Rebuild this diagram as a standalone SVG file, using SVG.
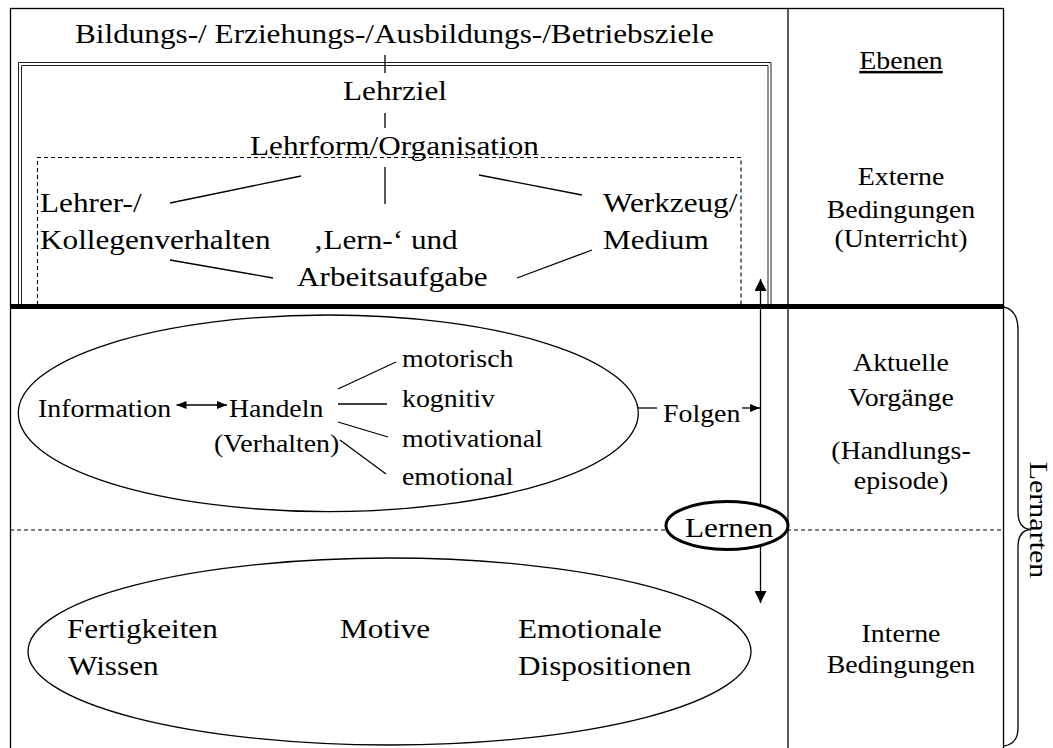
<svg xmlns="http://www.w3.org/2000/svg" width="1053" height="748" viewBox="0 0 1053 748" font-family="'Liberation Serif', 'Times New Roman', 'DejaVu Serif', serif">
<style>
text{font-family:'Liberation Serif','Times New Roman','DejaVu Serif',serif;fill:#000}
.l{font-size:28px}
.s{font-size:25px}
.c{text-anchor:middle}
.ln{stroke:#000;stroke-width:1.3;fill:none}
.thin{stroke:#222;stroke-width:1;fill:none}
.dash{stroke:#000;stroke-width:1.1;stroke-dasharray:4 3;fill:none}
.ell{stroke:#000;stroke-width:1.3;fill:none}
</style>
<defs>
<marker id="big" viewBox="0 0 12 12" refX="12" refY="6" markerWidth="12" markerHeight="12" markerUnits="userSpaceOnUse" orient="auto-start-reverse"><path d="M0,0 L12,6 L0,12 z" fill="#000"/></marker>
<marker id="sm" viewBox="0 0 10 8" refX="10" refY="4" markerWidth="10" markerHeight="8" markerUnits="userSpaceOnUse" orient="auto-start-reverse"><path d="M0,0 L10,4 L0,8 z" fill="#000"/></marker>
</defs>
<rect width="1053" height="748" fill="#fff"/>

<g id="frame">
<rect class="ln" x="10.5" y="8.5" width="993" height="760"/>
<line class="ln" x1="788" y1="8" x2="788" y2="748"/>
<path class="thin" d="M18.5,305 V62.5 H771 V305"/>
<path class="thin" d="M21.5,305 V65.5 H768 V305"/>
<path class="dash" d="M37.5,305 V157.5 H741 V305"/>
<line x1="10" y1="306.5" x2="1004" y2="306.5" stroke="#000" stroke-width="5"/>
<line class="dash" x1="10" y1="530" x2="1003" y2="530" stroke-dasharray="5 3"/>
<path class="ln" d="M1004,307 Q1018,310 1018,330 V512 Q1018,528 1030,529.5 Q1018,531 1018,547 V728 Q1018,744 1004,746"/>
</g>

<g id="ellipse-aktuell"><ellipse class="ell" cx="328.3" cy="413.3" rx="310" ry="98.3"/></g>
<g id="ellipse-intern"><ellipse class="ell" cx="389.5" cy="651.5" rx="361.5" ry="93.5"/></g>

<g id="connectors" stroke="#000" stroke-width="1.3" fill="none">
<line x1="385" y1="55" x2="385" y2="73"/>
<line x1="385" y1="113" x2="385" y2="128"/>
<line x1="385" y1="167" x2="385" y2="204"/>
<line x1="301" y1="176" x2="170" y2="203"/>
<line x1="479" y1="175" x2="582" y2="195"/>
<line x1="170" y1="260" x2="273" y2="278"/>
<line x1="517" y1="278" x2="592" y2="250"/>
<line x1="338" y1="389" x2="396" y2="362"/>
<line x1="338" y1="404" x2="387" y2="404"/>
<line x1="338" y1="422" x2="388" y2="437"/>
<line x1="340" y1="440" x2="386" y2="474"/>
<line x1="176.5" y1="405" x2="227" y2="405" marker-start="url(#sm)" marker-end="url(#sm)"/>
<line x1="638" y1="408" x2="657" y2="408"/>
<line x1="742" y1="408" x2="760" y2="408" marker-end="url(#sm)"/>
<line x1="760.5" y1="279" x2="760.5" y2="603" marker-start="url(#big)" marker-end="url(#big)"/>
</g>

<g id="lernen"><ellipse cx="727" cy="525.5" rx="61" ry="24" fill="#fff" stroke="#000" stroke-width="3"/>
<text class="l" font-family="'Liberation Serif', serif" transform="translate(685,537) scale(1.115,1)">Lernen</text></g>

<g id="ziele"><text class="l" transform="translate(75,43) scale(1.115,1)">Bildungs-/ Erziehungs-/Ausbildungs-/Betriebsziele</text></g>
<g id="lehrziel"><text class="l" transform="translate(343,100) scale(1.115,1)">Lehrziel</text></g>
<g id="lehrform"><text class="l" transform="translate(250,155) scale(1.115,1)">Lehrform/Organisation</text></g>
<g id="lehrer"><text class="l" transform="translate(40,212) scale(1.115,1)">Lehrer-/</text>
<text class="l" transform="translate(40,249) scale(1.115,1)">Kollegenverhalten</text></g>
<g id="aufgabe"><text class="l" transform="translate(313,249) scale(1.115,1)">‚Lern-‘ und</text>
<text class="l" transform="translate(297,286) scale(1.115,1)">Arbeitsaufgabe</text></g>
<g id="werkzeug"><text class="l" transform="translate(603,212) scale(1.115,1)">Werkzeug/</text>
<text class="l" transform="translate(603,249) scale(1.115,1)">Medium</text></g>

<g id="information"><text class="s" transform="translate(38,417) scale(1.115,1)">Information</text></g>
<g id="handeln"><text class="s" transform="translate(229,417) scale(1.115,1)">Handeln</text>
<text class="s" transform="translate(214,452) scale(1.115,1)">(Verhalten)</text></g>
<g id="motorisch"><text class="s" transform="translate(402,367) scale(1.115,1)">motorisch</text></g>
<g id="kognitiv"><text class="s" transform="translate(402,407) scale(1.115,1)">kognitiv</text></g>
<g id="motivational"><text class="s" transform="translate(402,447) scale(1.115,1)">motivational</text></g>
<g id="emotional"><text class="s" transform="translate(402,485) scale(1.115,1)">emotional</text></g>
<g id="folgen"><text class="s" transform="translate(663,422) scale(1.115,1)">Folgen</text></g>

<g id="fertigkeiten"><text class="l" transform="translate(67,638) scale(1.115,1)">Fertigkeiten</text>
<text class="l" transform="translate(68,675) scale(1.115,1)">Wissen</text></g>
<g id="motive"><text class="l" transform="translate(340,638) scale(1.115,1)">Motive</text></g>
<g id="dispositionen"><text class="l" transform="translate(518,638) scale(1.115,1)">Emotionale</text>
<text class="l" transform="translate(518,675) scale(1.115,1)">Dispositionen</text></g>

<g id="ebenen"><text class="s c" transform="translate(901,69) scale(1.115,1)" text-decoration="underline">Ebenen</text></g>
<g id="extern"><text class="s c" transform="translate(901,185) scale(1.115,1)">Externe</text>
<text class="s c" transform="translate(901,218) scale(1.115,1)">Bedingungen</text>
<text class="s c" transform="translate(901,247) scale(1.115,1)">(Unterricht)</text></g>
<g id="aktuell"><text class="s c" transform="translate(901,371) scale(1.115,1)">Aktuelle</text>
<text class="s c" transform="translate(901,406) scale(1.115,1)">Vorgänge</text>
<text class="s c" transform="translate(901,459) scale(1.115,1)">(Handlungs-</text>
<text class="s c" transform="translate(901,489) scale(1.115,1)">episode)</text></g>
<g id="intern"><text class="s c" transform="translate(901,642) scale(1.115,1)">Interne</text>
<text class="s c" transform="translate(901,673) scale(1.115,1)">Bedingungen</text></g>
<g id="lernarten"><text class="s c" transform="translate(1030,520) rotate(90) scale(1.2,1)">Lernarten</text></g>
</svg>
